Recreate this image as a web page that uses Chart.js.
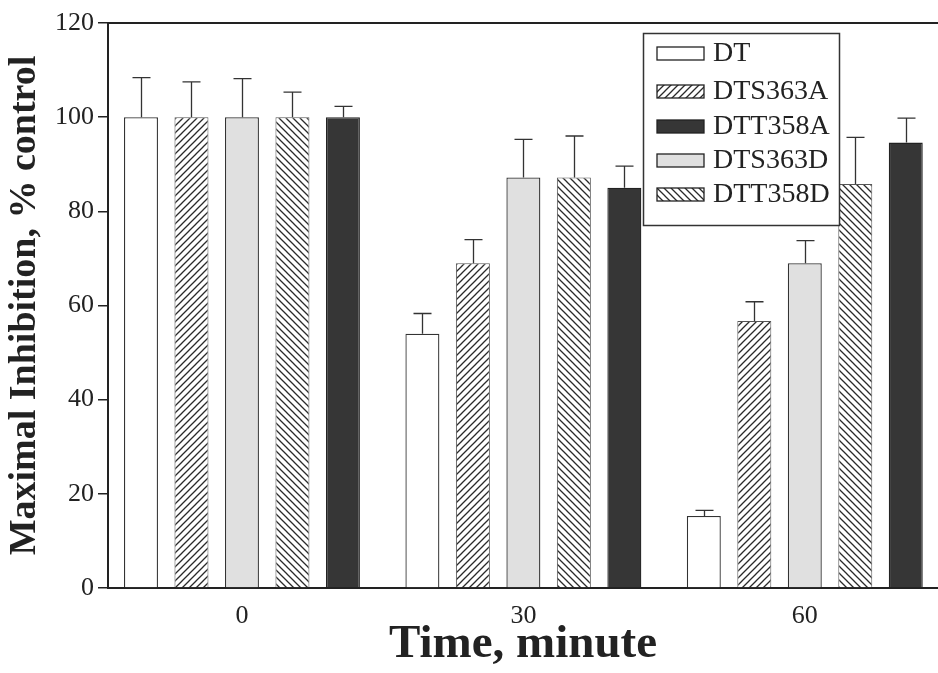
<!DOCTYPE html>
<html>
<head>
<meta charset="utf-8">
<script src="https://cdn.jsdelivr.net/npm/chart.js@4.4.1/dist/chart.umd.min.js"></script>
<style>
html,body{margin:0;padding:0;background:#fff;}
#wrap{width:938px;height:673px;position:relative;}
</style>
</head>
<body>
<div id="wrap"><canvas id="c" width="938" height="673"></canvas></div>
<script>
// ---- data ----
const times = [0, 30, 60];
const yTicks = [0, 20, 40, 60, 80, 100, 120];
const seriesNames = ['DT', 'DTS363A', 'DTS363D', 'DTT358D', 'DTT358A'];
const dtValues      = [100, 54.0, 15.3];
const dtErrors      = [8.4, 4.3, 1.2];
const dts363aValues = [100, 69.0, 56.7];
const dts363aErrors = [7.5, 5.0, 4.1];
const dts363dValues = [100, 87.2, 69.0];
const dts363dErrors = [8.2, 8.1, 4.8];
const dtt358dValues = [100, 87.2, 85.8];
const dtt358dErrors = [5.3, 8.8, 9.9];
const dtt358aValues = [100, 85.0, 94.6];
const dtt358aErrors = [2.3, 4.6, 5.2];
const legendOrder = ['DT', 'DTS363A', 'DTT358A', 'DTS363D', 'DTT358D'];

const FONT = "'Liberation Serif', 'Times New Roman', serif";
const canvas = document.getElementById('c');
const ctx0 = canvas.getContext('2d');

function hatch(dir) {
  const s = 7;
  const t = document.createElement('canvas');
  t.width = s; t.height = s;
  const c = t.getContext('2d');
  c.fillStyle = '#fff'; c.fillRect(0, 0, s, s);
  c.strokeStyle = '#2a2a2a'; c.lineWidth = 1.3;
  c.beginPath();
  if (dir === '/') {
    c.moveTo(-1, s + 1); c.lineTo(s + 1, -1);
    c.moveTo(-1, 1); c.lineTo(1, -1);
    c.moveTo(s - 1, s + 1); c.lineTo(s + 1, s - 1);
  } else {
    c.moveTo(-1, -1); c.lineTo(s + 1, s + 1);
    c.moveTo(s - 1, -1); c.lineTo(s + 1, 1);
    c.moveTo(-1, s - 1); c.lineTo(1, s + 1);
  }
  c.stroke();
  return ctx0.createPattern(t, 'repeat');
}

const styles = {
  'DT':      {fill: '#ffffff', border: '#333333', bw: 1.3},
  'DTS363A': {fill: hatch('/'), border: '#555555', bw: 1},
  'DTS363D': {fill: '#e0e0e0', border: '#333333', bw: 1.3},
  'DTT358D': {fill: hatch('\\'), border: '#555555', bw: 1},
  'DTT358A': {fill: '#363636', border: '#222222', bw: 1.3}
};

const valueSets = [dtValues, dts363aValues, dts363dValues, dtt358dValues, dtt358aValues];
const errorSets = [dtErrors, dts363aErrors, dts363dErrors, dtt358dErrors, dtt358aErrors];

const datasets = seriesNames.map((name, k) => ({
  label: name,
  data: times.map((t, i) => ({x: t, y: valueSets[k][i]})),
  errors: errorSets[k],
  backgroundColor: styles[name].fill,
  borderColor: styles[name].border,
  borderWidth: styles[name].bw,
  borderSkipped: 'bottom'
}));

const errorBarPlugin = {
  id: 'errorBars',
  afterDatasetsDraw(chart) {
    const ctx = chart.ctx;
    const ys = chart.scales.y;
    ctx.save();
    ctx.strokeStyle = '#333';
    ctx.lineWidth = 1.3;
    chart.data.datasets.forEach((ds, di) => {
      const meta = chart.getDatasetMeta(di);
      meta.data.forEach((bar, i) => {
        const v = ds.data[i].y;
        const top = ys.getPixelForValue(v + ds.errors[i]);
        const x = Math.round(bar.x) + 0.5;
        ctx.beginPath();
        ctx.moveTo(x, bar.y);
        ctx.lineTo(x, top);
        ctx.moveTo(x - 9, top);
        ctx.lineTo(x + 9, top);
        ctx.stroke();
      });
    });
    ctx.restore();
  }
};

const frameAndLegend = {
  id: 'frameAndLegend',
  afterDraw(chart) {
    const ctx = chart.ctx;
    const a = chart.chartArea;
    ctx.save();
    // top frame line
    ctx.strokeStyle = '#222';
    ctx.lineWidth = 2;
    ctx.beginPath();
    ctx.moveTo(a.left, a.top);
    ctx.lineTo(a.right, a.top);
    ctx.stroke();
    // legend box
    const bx = a.left + 535, by = a.top + 10, bw = 196, bh = 192;
    ctx.fillStyle = '#fff';
    ctx.fillRect(bx, by, bw, bh);
    ctx.strokeStyle = '#333';
    ctx.lineWidth = 1.5;
    ctx.strokeRect(bx + 0.5, by + 0.5, bw, bh);
    ctx.font = '28px ' + FONT;
    ctx.textBaseline = 'middle';
    ctx.textAlign = 'left';
    const rows = [20, 58, 93, 127, 161];
    legendOrder.forEach((name, i) => {
      const cy = by + rows[i];
      const st = styles[name];
      ctx.fillStyle = st.fill;
      ctx.fillRect(bx + 14, cy - 6, 47, 13);
      ctx.strokeStyle = '#222';
      ctx.lineWidth = 1.3;
      ctx.strokeRect(bx + 14, cy - 6, 47, 13);
      ctx.fillStyle = '#222';
      ctx.fillText(name, bx + 70, cy + 1);
    });
    ctx.restore();
  }
};

new Chart(canvas, {
  type: 'bar',
  data: {datasets},
  plugins: [errorBarPlugin, frameAndLegend],
  options: {
    responsive: false,
    animation: false,
    devicePixelRatio: 1,
    layout: {padding: {top: 23, right: 0, bottom: 0, left: 0}},
    datasets: {bar: {categoryPercentage: 0.897, barPercentage: 0.673}},
    plugins: {legend: {display: false}, tooltip: {enabled: false}},
    scales: {
      x: {
        type: 'linear',
        min: -14.28, max: 74.2,
        offset: false,
        grid: {display: false, offset: false},
        border: {display: true, color: '#222', width: 2},
        afterBuildTicks(s) { s.ticks = times.map(v => ({value: v})); },
        ticks: {autoSkip: false, maxRotation: 0, padding: 5, color: '#222',
                font: {family: FONT, size: 26}},
        title: {display: true, text: 'Time, minute', color: '#222',
                font: {family: FONT, size: 47, weight: 'bold'},
                padding: {top: 0, bottom: 0}},
        afterFit(s) { s.height = 85; }
      },
      y: {
        min: 0, max: 120,
        afterBuildTicks(s) { s.ticks = yTicks.map(v => ({value: v})); },
        grid: {drawOnChartArea: false, drawTicks: true, tickLength: 10, color: '#222', lineWidth: 1.5},
        border: {display: true, color: '#222', width: 2},
        ticks: {padding: 4, color: '#222', font: {family: FONT, size: 26}},
        title: {display: true, text: 'Maximal Inhibition, % control', color: '#222',
                font: {family: FONT, size: 38, weight: 'bold'},
                padding: {top: 2, bottom: 0}},
        afterFit(s) { s.width = 108; }
      }
    }
  }
});
</script>
</body>
</html>
